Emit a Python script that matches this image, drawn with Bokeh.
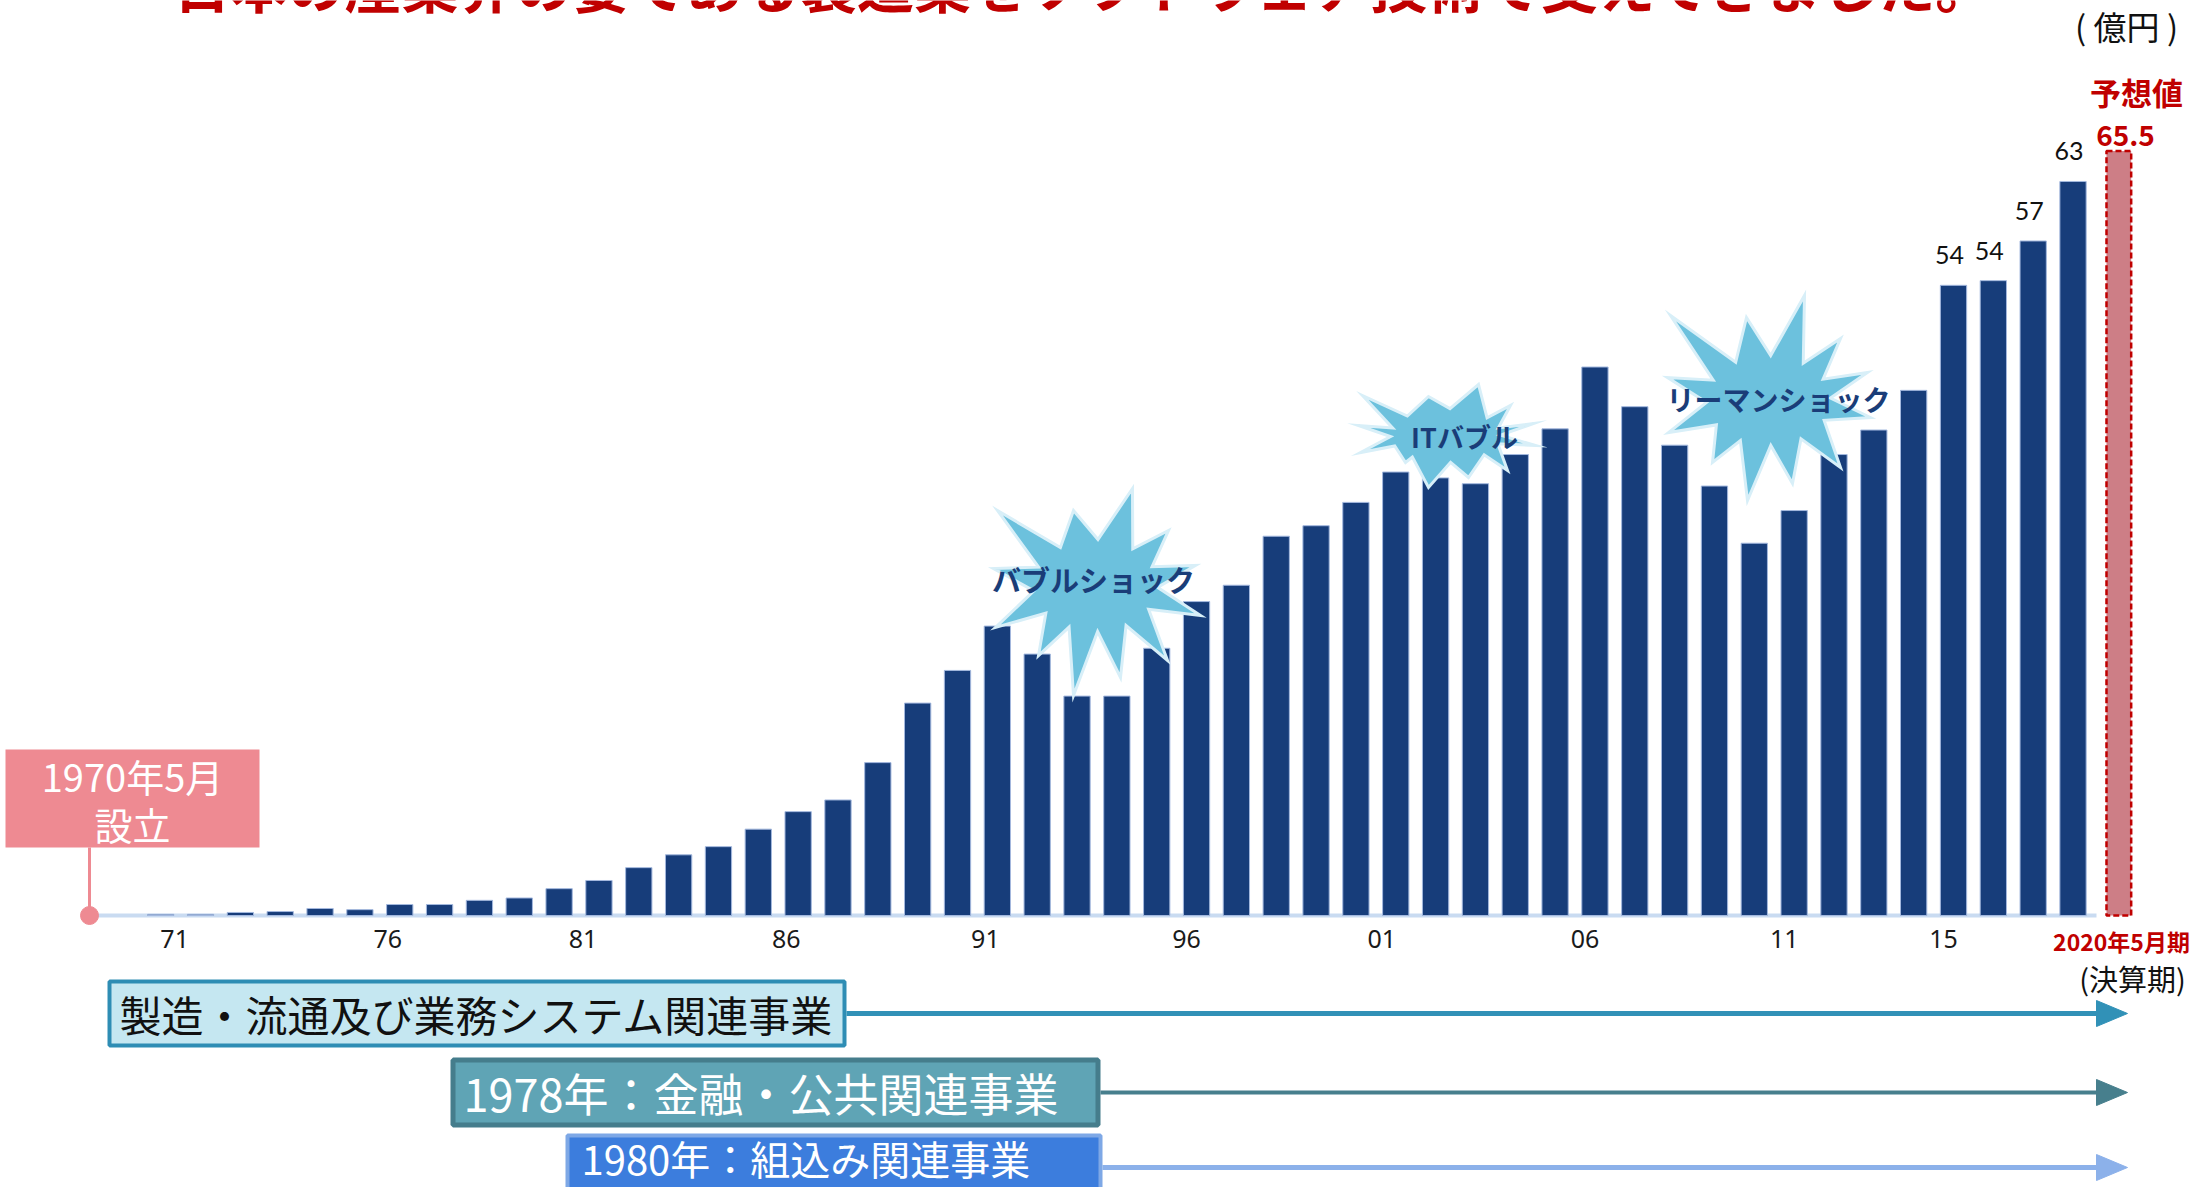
from bokeh.plotting import figure
from bokeh.models import Range1d, ColumnDataSource
from bokeh.core.properties import value
from bokeh.embed import file_html
from bokeh.resources import INLINE
from bokeh.transform import dodge
import math

# ---------------- data ----------------
fiscal_years = list(range(1971, 2020))
sales = [0.1, 0.1, 0.26, 0.34, 0.6, 0.5, 0.94, 0.94, 1.3, 1.5,
         2.3, 3.0, 4.1, 5.2, 5.9, 7.4, 8.9, 9.9, 13.1,
         18.2, 21.0, 24.8, 22.4, 18.8, 18.8, 22.9, 26.9, 28.3, 32.5,
         33.4, 35.4, 38.0, 37.5, 37.0, 39.5, 41.7, 47.0, 43.6, 40.3,
         36.8, 31.9, 34.7, 39.5, 41.6, 45.0, 54.0, 54.4, 57.8, 62.9]
forecast_year = [2020]
forecast_value = [65.5]
forecast_text = ["65.5"]
forecast_title = ["予想値"]
label_years = [2016, 2017, 2018, 2019]
label_texts = ["54", "54", "57", "63"]
tick_positions = [1971.35, 1976.7, 1981.6, 1986.7, 1991.7, 1996.75, 2001.65, 2006.75, 2011.75, 2015.75]
tick_labels = ["71", "76", "81", "86", "91", "96", "01", "06", "11", "15"]
period_label = ["2020年5月期"]
period_note = ["(決算期)"]
unit_label = ["( 億円 )"]
title_text = ["日本の産業界の要である製造業をソフトウェア技術で支えてきました。"]
founding_lines = ["1970年5月", "設立"]
event_names = ["バブルショック", "ITバブル", "リーマンショック"]
business_names = ["製造・流通及び業務システム関連事業", "1978年：金融・公共関連事業", "1980年：組込み関連事業"]

# ---------------- layout helpers (reference pixels -> data) ----------------
W, H = 2190, 1187
X0, PITCH, BASE, PPU = 160.2, 39.84, 915.0, 11.67


def fx(px):
    return 1971 + (px - X0) / PITCH


def fy(py):
    return (BASE - py) / PPU


JP = value("Noto Sans CJK JP")

p = figure(width=W, height=H, x_range=Range1d(fx(0), fx(W)), y_range=Range1d(fy(H), fy(0)),
           output_backend="svg", toolbar_location=None, x_axis_location=None, y_axis_location=None,
           min_border=0, min_border_left=0, min_border_right=0, min_border_top=0, min_border_bottom=0)
p.grid.visible = False
p.outline_line_color = None
p.background_fill_color = "white"

# title (cut off at top, as in the reference)
p.text(x=[fx(1085)], y=[fy(-18)], text=title_text, text_font=JP, text_font_size="57px",
       text_font_style="bold", text_color="#C00000", text_align="center", text_baseline="middle")

# unit
p.text(x=[fx(2126)], y=[fy(25)], text=unit_label, text_font=JP, text_font_size="33px",
       text_color="#111111", text_align="center", text_baseline="middle")

# baseline
p.segment(x0=[fx(91)], y0=[0], x1=[fx(2096)], y1=[0], line_color="#C9DBF1", line_width=4)

# bars
p.vbar(x=fiscal_years, top=sales, bottom=0, width=0.66, fill_color="#173D7A",
       line_color="#A3B8DE", line_width=1)

# forecast bar
fsrc = ColumnDataSource(dict(x=forecast_year, top=forecast_value))
p.vbar(x=dodge("x", 0.15), top="top", bottom=0, width=0.62, source=fsrc, fill_color="#CD7E86",
       line_color="#C00000", line_width=2.5, line_dash="6 3")

# value labels
lab_vals = [sales[y - 1971] + 30 / PPU for y in label_years]
p.text(x=label_years, y=lab_vals, text=label_texts, text_font=value("Lato"), text_font_size="25px",
       text_color="#111111", text_align="center", text_baseline="middle", x_offset=-4)
p.text(x=[fx(2136)], y=[fy(91)], text=forecast_title, text_font=JP, text_font_size="31px",
       text_font_style="bold", text_color="#C00000", text_align="center", text_baseline="middle")
p.text(x=[fx(2125)], y=[fy(135)], text=forecast_text, text_font=JP, text_font_size="28px",
       text_font_style="bold", text_color="#C00000", text_align="center", text_baseline="middle")

# tick labels
p.text(x=tick_positions, y=[fy(938)] * len(tick_positions), text=tick_labels, text_font=value("Noto Sans"),
       text_font_size="25px", text_color="#1A1A1A", text_align="center", text_baseline="middle")
p.text(x=[fx(2121)], y=[fy(940)], text=period_label, text_font=JP, text_font_size="23px",
       text_font_style="bold", text_color="#C00000", text_align="center", text_baseline="middle")
p.text(x=[fx(2132)], y=[fy(977)], text=period_note, text_font=JP, text_font_size="29px",
       text_color="#111111", text_align="center", text_baseline="middle")

# founding marker
PINK = "#EE8A92"
p.segment(x0=[fx(89)], y0=[fy(847)], x1=[fx(89)], y1=[0], line_color=PINK, line_width=3)
p.scatter(x=[fx(89)], y=[0], size=18, fill_color=PINK, line_color=PINK)
p.quad(left=[fx(5)], right=[fx(259)], top=[fy(749)], bottom=[fy(847)], fill_color=PINK, line_color=None)
p.text(x=[fx(132), fx(132)], y=[fy(775), fy(823)], text=founding_lines, text_font=JP,
       text_font_size="38px", text_color="white", text_align="center", text_baseline="middle")


# starbursts
def star(cx, cy, tips, rx, ry):
    pts = []
    n = len(tips)
    for i in range(n):
        tx, ty = tips[i]
        nx, ny = tips[(i + 1) % n]
        pts.append((tx, ty))
        a1 = math.atan2(ty - cy, tx - cx)
        a2 = math.atan2(ny - cy, nx - cx)
        d = (a2 - a1) % (2 * math.pi)
        am = a1 + d / 2
        pts.append((cx + rx * math.cos(am), cy + ry * math.sin(am)))
    return [fx(a) for a, b in pts], [fy(b) for a, b in pts]


stars = [
    dict(c=(1095, 585), r=(62, 46), text_c=(1093, 578), fs="29px",
         tips=[(997, 510), (1073, 510), (1132, 488), (1168, 530), (1195, 565), (1200, 615),
               (1167, 660), (1120, 677), (1073, 695), (1038, 655), (995, 627), (993, 568)]),
    dict(c=(1445, 435), r=(55, 27), text_c=(1464, 436), fs="27px",
         tips=[(1362, 395), (1428, 396), (1478, 384), (1510, 405), (1533, 423), (1535, 445),
               (1507, 470), (1468, 477), (1428, 487), (1405, 462), (1360, 452), (1358, 425)]),
    dict(c=(1768, 400), r=(62, 45), text_c=(1778, 398), fs="28px",
         tips=[(1670, 315), (1746, 317), (1804, 295), (1840, 338), (1867, 372), (1870, 417),
               (1840, 467), (1792, 483), (1747, 500), (1712, 462), (1668, 432), (1667, 377)]),
]
xs_list, ys_list = [], []
for s in stars:
    xs, ys = star(s["c"][0], s["c"][1], s["tips"], s["r"][0], s["r"][1])
    xs_list.append(xs)
    ys_list.append(ys)
p.patches(xs=xs_list, ys=ys_list, fill_color="#6CC1DD", line_color="#D8EFF8", line_width=3, line_join="miter")
for s, name in zip(stars, event_names):
    p.text(x=[fx(s["text_c"][0])], y=[fy(s["text_c"][1])], text=[name], text_font=JP,
           text_font_size=s["fs"], text_font_style="bold", text_color="#1A3D78",
           text_align="center", text_baseline="middle")

# business rows
rows = [
    dict(box=(107, 846, 979, 1047), bw=4, fill="#C5E7F1", border="#2E8DB4", line="#3191B7", ly=1013,
         lw=5, tx=119, ty=1013, tc="#111111", fs="42px"),
    dict(box=(450, 1100, 1057, 1127), bw=5, fill="#5FA4B5", border="#457D8C", line="#477F8D", ly=1092,
         lw=4, tx=463, ty=1092, tc="white", fs="45px"),
    dict(box=(565, 1102, 1133, 1208), bw=4, fill="#3C7DDD", border="#7EA8E6", line="#8CB1EA", ly=1167,
         lw=5, tx=581, ty=1157, tc="white", fs="40px"),
]
for r, name in zip(rows, business_names):
    l, rr, t, b = r["box"]
    h = r["bw"] / 2
    p.segment(x0=[fx(rr)], y0=[fy(r["ly"])], x1=[fx(2100)], y1=[fy(r["ly"])], line_color=r["line"],
              line_width=r["lw"])
    p.patch(x=[fx(2096), fx(2127), fx(2096)], y=[fy(r["ly"] - 13), fy(r["ly"]), fy(r["ly"] + 13)],
            fill_color=r["line"], line_color=r["line"])
    p.quad(left=[fx(l + h)], right=[fx(rr - h)], top=[fy(t + h)], bottom=[fy(b - h)], fill_color=r["fill"],
           line_color=r["border"], line_width=r["bw"])
    p.text(x=[fx(r["tx"])], y=[fy(r["ty"])], text=[name], text_font=JP, text_font_size=r["fs"],
           text_color=r["tc"], text_align="left", text_baseline="middle")

open("out.html", "w").write(file_html(p, INLINE))
